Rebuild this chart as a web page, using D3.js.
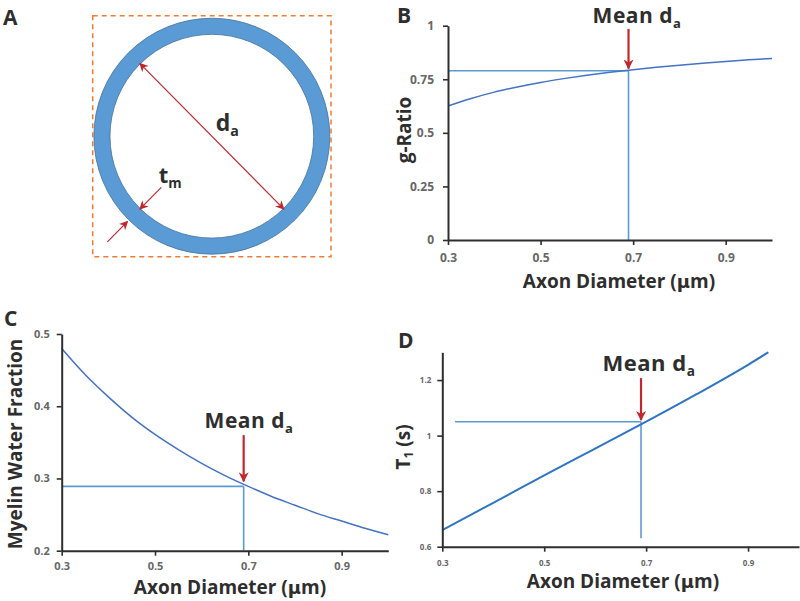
<!DOCTYPE html>
<html>
<head>
<meta charset="utf-8">
<script src="https://cdn.jsdelivr.net/npm/d3@7"></script>
<style>
  body { margin: 0; background: #fff; }
  svg { display: block; }
  text { font-family: "Open Sans", Lato, sans-serif; font-weight: bold; }
</style>
</head>
<body>
<script>

// ------------------------ DATA ------------------------
var diameters   = [0.3, 0.35, 0.4, 0.45, 0.5, 0.55, 0.6, 0.65, 0.7, 0.75, 0.8, 0.85, 0.9, 0.95, 1.0];
var gRatio      = [0.625, 0.660, 0.690, 0.714, 0.735, 0.753, 0.769, 0.783, 0.795, 0.806, 0.816, 0.825, 0.833, 0.841, 0.847];
var mwf         = [0.480, 0.444, 0.413, 0.385, 0.361, 0.340, 0.321, 0.304, 0.289, 0.275, 0.263, 0.251, 0.241, 0.231, 0.222];
var t1Diameters = [0.3, 0.4, 0.5, 0.6, 0.7, 0.8, 0.9, 0.94];
var t1Values    = [0.660, 0.758, 0.857, 0.953, 1.050, 1.150, 1.255, 1.300];

var xTicks    = [0.3, 0.5, 0.7, 0.9];
var gTicks    = [0, 0.25, 0.5, 0.75, 1];
var mwfTicks  = [0.2, 0.3, 0.4, 0.5];
var t1Ticks   = [0.6, 0.8, 1, 1.2];

var meanD   = 0.69;
var meanG   = 0.79;
var meanMWF = 0.289;
var meanT1  = 1.05;

// colours
var CURVE = '#4472c4';
var GUIDE = '#5b9bd5';
var RED   = '#c0282d';
var INK   = '#2e2e2e';
var TICKINK = '#666';

var svg = d3.select('body').append('svg')
	.attr('width', 800)
	.attr('height', 601);

// red arrow head markers (small for the diagram, bigger for the "mean" arrows)
var defs = svg.append('defs');
function marker(id, w, h) {
	defs.append('marker')
		.attr('id', id)
		.attr('viewBox', '0 0 10 10')
		.attr('refX', 9)
		.attr('refY', 5)
		.attr('markerWidth', w)
		.attr('markerHeight', h)
		.attr('markerUnits', 'userSpaceOnUse')
		.attr('orient', 'auto-start-reverse')
		.append('path')
		.attr('d', 'M0,0 L10,5 L0,10 L3,5 Z')
		.attr('fill', RED);
}
marker('head', 10, 9);
marker('headBig', 12, 10);

// panel letters
function letter(t, x, y) {
	svg.append('text').text(t).attr('x', x).attr('y', y)
		.attr('font-size', 21).attr('fill', INK);
}
letter('A', 3, 25);
letter('B', 397, 23);
letter('C', 4, 326);
letter('D', 398, 348);

// text with a subscript: "Mean d" + "a"
function subText(g, main, sub, x, y, size) {
	var t = g.append('text').attr('x', x).attr('y', y)
		.attr('font-size', size).attr('fill', INK).attr('text-anchor', 'middle');
	t.append('tspan').text(main);
	t.append('tspan').text(sub).attr('font-size', size * 0.62).attr('dy', size * 0.22);
	return t;
}

// ------------------------ PANEL A: axon cross-section ------------------------
var ax = d3.scaleLinear().domain([-1, 1]).range([92.7, 331]);
var ay = d3.scaleLinear().domain([-1, 1]).range([15.7, 256.7]);
var unit = (ax(1) - ax(-1)) / 2;
var rOuter = 0.99, rInner = 0.855;

var gA = svg.append('g');
gA.append('rect')
	.attr('x', ax(-1)).attr('y', ay(-1))
	.attr('width', ax(1) - ax(-1)).attr('height', ay(1) - ay(-1))
	.attr('fill', 'none').attr('stroke', '#ed7d31')
	.attr('stroke-width', 1.5).attr('stroke-dasharray', '5,4');

gA.append('circle')
	.attr('cx', ax(0)).attr('cy', ay(0))
	.attr('r', unit * (rOuter + rInner) / 2)
	.attr('fill', 'none').attr('stroke', '#5b9bd5')
	.attr('stroke-width', unit * (rOuter - rInner));
[rOuter, rInner].forEach(function(r) {
	gA.append('circle')
		.attr('cx', ax(0)).attr('cy', ay(0)).attr('r', unit * r)
		.attr('fill', 'none').attr('stroke', '#41719c').attr('stroke-width', 0.8);
});

function polar(r, deg) {
	var a = deg * Math.PI / 180;
	return [ax(r * Math.cos(a)), ay(r * Math.sin(a))];
}
function redArrow(g, p0, p1, both, w, head) {
	var m = 'url(#' + (head || 'head') + ')';
	g.append('line')
		.attr('x1', p0[0]).attr('y1', p0[1]).attr('x2', p1[0]).attr('y2', p1[1])
		.attr('stroke', RED).attr('stroke-width', w || 1.2)
		.attr('marker-end', m)
		.attr('marker-start', both ? m : null);
}
// diameter arrow
redArrow(gA, polar(rInner, -135), polar(rInner, 45), true, 1.2);
// thickness arrows
redArrow(gA, polar(0.6, 135), polar(rInner, 135), false, 1.2);
redArrow(gA, polar(1.24, 135), polar(rOuter + 0.01, 135), false, 1.2);

subText(gA, 'd', 'a', ax(0.13), ay(-0.04), 23);
subText(gA, 't', 'm', ax(-0.35), ay(0.39), 22);

// ------------------------ CHART PANELS ------------------------
function panel(opt) {
	var g = svg.append('g');
	var x = d3.scaleLinear().domain([0.3, 1.0]).range(opt.xRange);
	var y = d3.scaleLinear().domain(opt.yDomain).range(opt.yRange);

	// mean guide lines
	g.append('line')
		.attr('x1', x(opt.hFrom)).attr('x2', x(meanD))
		.attr('y1', y(opt.meanY)).attr('y2', y(opt.meanY))
		.attr('stroke', GUIDE).attr('stroke-width', 1.6);
	g.append('line')
		.attr('x1', x(meanD)).attr('x2', x(meanD))
		.attr('y1', y(opt.vFrom)).attr('y2', y(opt.meanY))
		.attr('stroke', GUIDE).attr('stroke-width', 1.6);

	// the curve
	var line = d3.line()
		.x(function(d) { return x(d[0]); })
		.y(function(d) { return y(d[1]); })
		.curve(d3.curveMonotoneX);
	g.append('path')
		.datum(d3.zip(opt.xs, opt.ys))
		.attr('d', line)
		.attr('fill', 'none')
		.attr('stroke', opt.curveColor || CURVE)
		.attr('stroke-width', opt.curveWidth || 1.5);

	// axes
	var xAxis = d3.axisBottom(x).tickValues(xTicks).tickSizeInner(5).tickSizeOuter(0)
		.tickPadding(opt.xPad).tickFormat(d3.format('.1f'));
	var yAxis = d3.axisLeft(y).tickValues(opt.yTicks).tickSizeInner(5).tickSizeOuter(0)
		.tickPadding(opt.yPad).tickFormat(function(d) { return String(d); });

	var gx = g.append('g').attr('transform', 'translate(0,' + opt.yRange[0] + ')').call(xAxis);
	var gy = g.append('g').attr('transform', 'translate(' + opt.xRange[0] + ',0)').call(yAxis);
	[gx, gy].forEach(function(a) {
		a.select('.domain').attr('stroke', INK).attr('stroke-width', 2);
		a.selectAll('.tick line').attr('stroke', INK).attr('stroke-width', 1.6);
		a.selectAll('.tick text')
			.attr('fill', TICKINK)
			.attr('font-size', opt.tickSize)
			.style('font-family', '"Open Sans", sans-serif')
			.style('font-weight', 'bold');
	});

	// axis titles
	var xt = g.append('text')
		.attr('x', opt.xTitle[0]).attr('y', opt.xTitle[1])
		.attr('text-anchor', 'middle').attr('font-size', 19).attr('fill', INK);
	xt.append('tspan').text('Axon Diameter (');
	xt.append('tspan').text('\u00b5').style('font-family', '"DejaVu Sans", sans-serif').attr('font-size', 18);
	xt.append('tspan').text('m)');

	var yt = g.append('text')
		.attr('transform', 'translate(' + opt.yTitle[0] + ',' + opt.yTitle[1] + ') rotate(-90)')
		.attr('text-anchor', 'middle').attr('font-size', 19).attr('fill', INK);
	yt.append('tspan').text(opt.yLabel);
	if (opt.ySub) {
		yt.append('tspan').text(opt.ySub).attr('font-size', 12).attr('dy', 3);
		yt.append('tspan').text(' (s)').attr('dy', -3);
	}

	// "Mean da" arrow
	redArrow(g, [x(meanD), y(opt.arrow[0])], [x(meanD), y(opt.arrow[1])], false, 2.2, 'headBig');
	subText(g, 'Mean d', 'a', opt.meanText[0], opt.meanText[1], opt.meanSize)
		.attr('letter-spacing', 0.5);
}

panel({
	xRange: [448, 772], yRange: [240, 25.7], yDomain: [0, 1],
	xs: diameters, ys: gRatio, yTicks: gTicks,
	meanY: meanG, hFrom: 0.3, vFrom: 0,
	xPad: 8, yPad: 9, tickSize: 12,
	xTitle: [619, 288], yTitle: [411, 130], yLabel: 'g-Ratio',
	arrow: [0.985, 0.80], meanText: [637, 23], meanSize: 21
});

panel({
	xRange: [61.7, 388.3], yRange: [550.7, 334], yDomain: [0.2, 0.5],
	xs: diameters, ys: mwf, yTicks: mwfTicks,
	meanY: meanMWF, hFrom: 0.3, vFrom: 0.2,
	xPad: 7, yPad: 7, tickSize: 11,
	xTitle: [230, 594], yTitle: [22, 444], yLabel: 'Myelin Water Fraction',
	arrow: [0.36, 0.296], meanText: [249, 428], meanSize: 21
});

panel({
	xRange: [442.3, 799], yRange: [546.7, 352.3], yDomain: [0.6, 1.3],
	xs: t1Diameters, ys: t1Values, yTicks: t1Ticks,
	meanY: meanT1, hFrom: 0.325, vFrom: 0.63,
	xPad: 9, yPad: 6, tickSize: 8,
	curveColor: '#2e75c6', curveWidth: 2,
	xTitle: [623, 588], yTitle: [410, 447], yLabel: 'T', ySub: '1',
	arrow: [1.207, 1.056], meanText: [649, 371], meanSize: 22
});

</script>
</body>
</html>
